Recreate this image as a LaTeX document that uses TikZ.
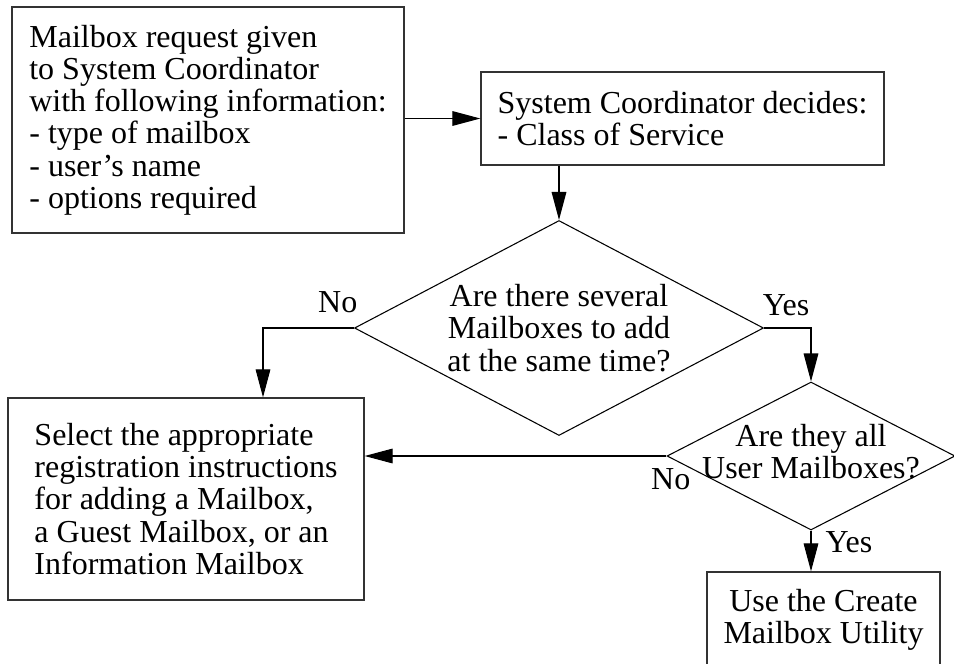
\documentclass[tikz,border=0pt]{standalone}
\usepackage{fontspec}
\setmainfont{Liberation Serif}
\usetikzlibrary{shapes.geometric,arrows.meta}

\begin{document}
\begin{tikzpicture}[x=0.75pt,y=-0.75pt,
    every node/.style={font=\fontsize{24}{24.2}\selectfont},
    box/.style={draw=black!80,line width=1pt,inner sep=0pt},
    decision/.style={diamond,draw,line width=0.8pt,inner sep=0pt},
    flow/.style={line width=0.8pt,-{Triangle[length=21pt,width=11pt]}}]
          \useasboundingbox (0,0) rectangle (954,664);
          \node[box,align=left,minimum width=294pt,minimum height=169.5pt] (request) at (208,120) {Mailbox request given\\to System Coordinator\\with following information:\\- type of mailbox\\- user's name\\- options required};
          \node[box,align=left,minimum width=302.25pt,minimum height=69.75pt] (coord) at (682.5,118.5) {System Coordinator decides:\\- Class of Service};
          \node[decision,aspect=1.9,align=center,minimum width=306.75pt,minimum height=161.25pt] (several) at (559,328) {Are there several\\Mailboxes to add\\at the same time?};
          \node[decision,aspect=1.95,minimum width=216pt,minimum height=111pt] (allusers) at (811,456) {\makebox[0pt]{\begin{tabular}{@{}c@{}}Are they all\\User Mailboxes?\end{tabular}}};
          \node[box,align=left,minimum width=267pt,minimum height=151.5pt] (select) at (186,499) {Select the appropriate\\registration instructions\\for adding a Mailbox,\\a Guest Mailbox, or an\\Information Mailbox};
          \node[box,align=center,minimum width=174.75pt,minimum height=72pt] (utility) at (823.5,620) {Use the Create\\Mailbox Utility};
          \coordinate (nobend) at (263,328);
          \draw[flow] (request.east |- coord.west) to (coord.west);
          \draw[flow] (several.north |- coord.south) to (several.north);
          \draw[flow] (several.west) -- (nobend) -- (nobend |- select.north);
          \draw[flow] (several.east) -| (allusers.north);
          \draw[flow] (allusers.west) to (allusers.west -| select.east);
          \draw[flow] (allusers.south) to (allusers.south |- utility.north);
          \node[anchor=base east] (noseveral) at ([shift={(8,-16)}]several.west) {No};
          \node[anchor=base west] (yesseveral) at ([shift={(-6,-13)}]several.east) {Yes};
          \node[anchor=base west] (noall) at ([shift={(-20,33)}]allusers.west) {No};
          \node[anchor=base west] (yesall) at ([shift={(10,22)}]allusers.south) {Yes};
        \end{tikzpicture}
\end{document}
